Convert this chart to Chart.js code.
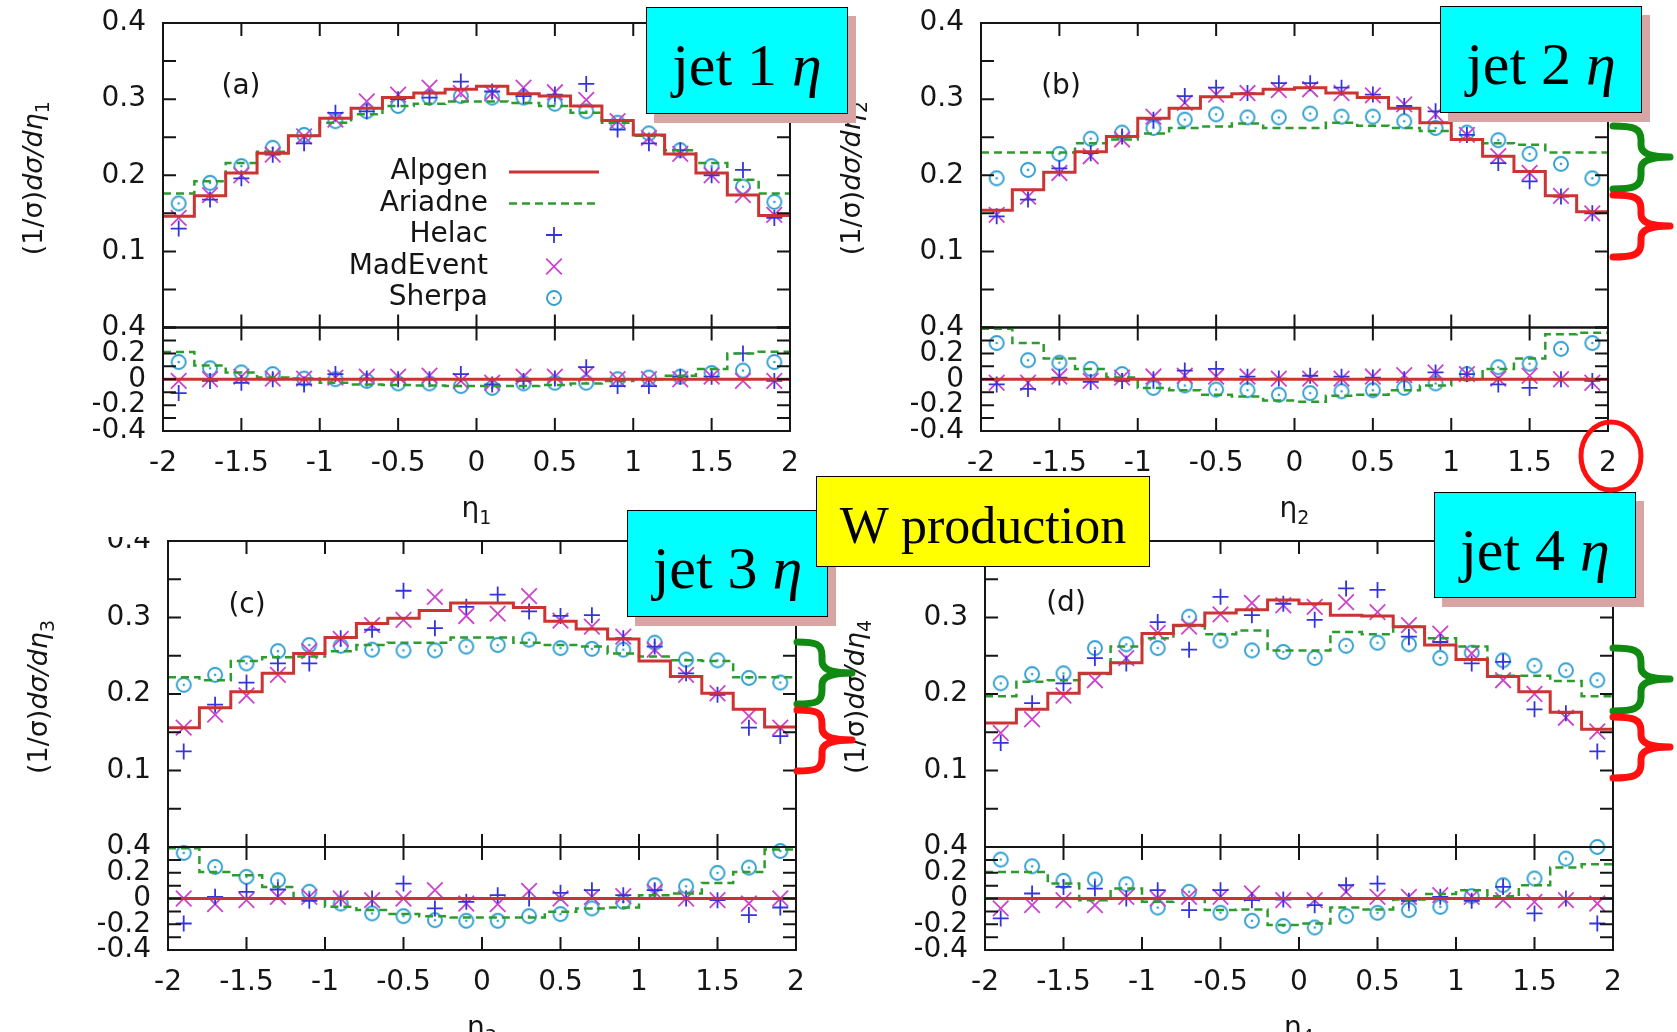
<!DOCTYPE html>
<html>
<head>
<meta charset="utf-8">
<title>W + jets: jet pseudorapidity</title>
<script src="https://cdn.jsdelivr.net/npm/chart.js@4.4.1/dist/chart.umd.min.js"></script>
<style>
  body { margin: 0; background: #fff; }
  #page { position: relative; width: 1677px; height: 1032px; overflow: hidden; background: #fff; }
  #page canvas { position: absolute; left: 0; top: 0; }
  #mainC { clip-path: inset(537px 0 0 0); }
  .box { position: absolute; box-sizing: border-box; border: 1.5px solid #000; display: flex;
         align-items: center; justify-content: center; font-family: "Liberation Serif", "Times New Roman", serif;
         color: #000; white-space: nowrap; }
  .jet { background: #00ffff; box-shadow: 8px 9px 0 #d9a4a4; font-size: 60px; padding-top: 10px; }
  .wprod { background: #ffff00; font-size: 52px; padding-top: 8px; }
  #marks { position: absolute; left: 0; top: 0; }
</style>
</head>
<body>
<div id="page">
  <canvas id="mainA" width="1677" height="1032"></canvas>
  <canvas id="ratioA" width="1677" height="1032"></canvas>
  <canvas id="mainB" width="1677" height="1032"></canvas>
  <canvas id="ratioB" width="1677" height="1032"></canvas>
  <canvas id="mainC" width="1677" height="1032"></canvas>
  <canvas id="ratioC" width="1677" height="1032"></canvas>
  <canvas id="mainD" width="1677" height="1032"></canvas>
  <canvas id="ratioD" width="1677" height="1032"></canvas>

  <div class="box jet" style="left:646px;top:7px;width:202px;height:107px">jet 1&nbsp;<i>η</i></div>
  <div class="box jet" style="left:1440px;top:6px;width:202px;height:107px">jet 2&nbsp;<i>η</i></div>
  <div class="box jet" style="left:627px;top:510px;width:201px;height:107px">jet 3&nbsp;<i>η</i></div>
  <div class="box jet" style="left:1434px;top:492px;width:202px;height:106px">jet 4&nbsp;<i>η</i></div>
  <div class="box wprod" style="left:816px;top:476px;width:334px;height:91px">W production</div>

  <svg id="marks" width="1677" height="1032"></svg>
</div>

<script>
// eta bins: 20 bins of width 0.2 between -2 and 2
const binEdges = [-2, -1.8, -1.6, -1.4, -1.2, -1, -0.8, -0.6, -0.4, -0.2, 0,
                  0.2, 0.4, 0.6, 0.8, 1, 1.2, 1.4, 1.6, 1.8, 2];
const binCenters = [-1.9, -1.7, -1.5, -1.3, -1.1, -0.9, -0.7, -0.5, -0.3, -0.1,
                    0.1, 0.3, 0.5, 0.7, 0.9, 1.1, 1.3, 1.5, 1.7, 1.9];
const seriesNames = ['Alpgen', 'Ariadne', 'Helac', 'MadEvent', 'Sherpa'];

// (1/sigma) dsigma/deta, leading jet
const alpgenJ1   = [0.146, 0.173, 0.203, 0.229, 0.252, 0.275, 0.288, 0.302, 0.308, 0.313, 0.317, 0.307, 0.304, 0.291, 0.272, 0.253, 0.228, 0.203, 0.174, 0.147];
const ariadneJ1  = [0.176, 0.192, 0.216, 0.231, 0.252, 0.269, 0.280, 0.291, 0.294, 0.297, 0.297, 0.295, 0.291, 0.282, 0.269, 0.252, 0.233, 0.216, 0.194, 0.176];
const helacJ1    = [0.130, 0.168, 0.196, 0.227, 0.242, 0.282, 0.284, 0.300, 0.302, 0.323, 0.310, 0.304, 0.306, 0.320, 0.260, 0.242, 0.233, 0.200, 0.207, 0.144];
const madeventJ1 = [0.144, 0.174, 0.200, 0.227, 0.251, 0.273, 0.297, 0.306, 0.315, 0.308, 0.308, 0.315, 0.309, 0.299, 0.271, 0.249, 0.228, 0.200, 0.174, 0.148];
const sherpaJ1   = [0.163, 0.190, 0.212, 0.236, 0.253, 0.271, 0.284, 0.291, 0.302, 0.304, 0.302, 0.302, 0.294, 0.284, 0.269, 0.255, 0.233, 0.212, 0.185, 0.165];

// second jet
const alpgenJ2   = [0.154, 0.181, 0.204, 0.231, 0.251, 0.275, 0.288, 0.303, 0.307, 0.313, 0.315, 0.308, 0.302, 0.288, 0.269, 0.247, 0.225, 0.205, 0.173, 0.152];
const ariadneJ2  = [0.230, 0.230, 0.230, 0.242, 0.247, 0.255, 0.262, 0.264, 0.268, 0.262, 0.262, 0.269, 0.265, 0.262, 0.258, 0.247, 0.242, 0.240, 0.230, 0.230];
const helacJ2    = [0.146, 0.168, 0.209, 0.229, 0.251, 0.273, 0.304, 0.315, 0.308, 0.321, 0.321, 0.315, 0.306, 0.291, 0.284, 0.253, 0.216, 0.192, 0.172, 0.150];
const madeventJ2 = [0.148, 0.172, 0.203, 0.225, 0.247, 0.277, 0.295, 0.306, 0.308, 0.312, 0.313, 0.308, 0.305, 0.293, 0.280, 0.253, 0.225, 0.203, 0.173, 0.150];
const sherpaJ2   = [0.196, 0.207, 0.228, 0.248, 0.256, 0.262, 0.273, 0.280, 0.276, 0.276, 0.281, 0.277, 0.277, 0.271, 0.262, 0.256, 0.246, 0.228, 0.215, 0.196];

// third jet
const alpgenJ3   = [0.156, 0.182, 0.203, 0.227, 0.253, 0.274, 0.292, 0.299, 0.309, 0.319, 0.319, 0.313, 0.295, 0.285, 0.272, 0.243, 0.223, 0.201, 0.180, 0.157];
const ariadneJ3  = [0.222, 0.218, 0.243, 0.248, 0.249, 0.256, 0.264, 0.267, 0.267, 0.274, 0.274, 0.267, 0.264, 0.262, 0.253, 0.249, 0.244, 0.243, 0.222, 0.222];
const helacJ3    = [0.125, 0.186, 0.215, 0.240, 0.240, 0.273, 0.284, 0.335, 0.286, 0.314, 0.330, 0.308, 0.302, 0.303, 0.273, 0.262, 0.227, 0.199, 0.156, 0.145];
const madeventJ3 = [0.156, 0.173, 0.198, 0.225, 0.256, 0.272, 0.290, 0.297, 0.327, 0.302, 0.305, 0.328, 0.296, 0.288, 0.275, 0.258, 0.225, 0.201, 0.171, 0.156];
const sherpaJ3   = [0.212, 0.225, 0.240, 0.256, 0.264, 0.263, 0.258, 0.257, 0.257, 0.262, 0.264, 0.271, 0.260, 0.259, 0.258, 0.267, 0.245, 0.244, 0.221, 0.215];

// fourth jet
const alpgenJ4   = [0.162, 0.180, 0.201, 0.227, 0.241, 0.279, 0.290, 0.306, 0.310, 0.323, 0.318, 0.303, 0.302, 0.288, 0.264, 0.245, 0.223, 0.203, 0.176, 0.154];
const ariadneJ4  = [0.197, 0.216, 0.218, 0.226, 0.262, 0.273, 0.289, 0.278, 0.283, 0.257, 0.257, 0.281, 0.278, 0.288, 0.273, 0.262, 0.224, 0.224, 0.217, 0.197];
const helacJ4    = [0.136, 0.188, 0.214, 0.247, 0.240, 0.294, 0.258, 0.327, 0.303, 0.318, 0.297, 0.338, 0.336, 0.275, 0.268, 0.240, 0.242, 0.180, 0.175, 0.125];
const madeventJ4 = [0.149, 0.167, 0.198, 0.218, 0.247, 0.280, 0.288, 0.304, 0.319, 0.316, 0.314, 0.320, 0.307, 0.290, 0.279, 0.253, 0.218, 0.200, 0.169, 0.151];
const sherpaJ4   = [0.214, 0.226, 0.227, 0.260, 0.265, 0.260, 0.301, 0.270, 0.257, 0.255, 0.247, 0.263, 0.267, 0.265, 0.247, 0.254, 0.244, 0.237, 0.231, 0.218];

// relative difference to Alpgen, (X - Alpgen) / Alpgen
const alpgenRatio = [0, 0, 0, 0, 0, 0, 0, 0, 0, 0, 0, 0, 0, 0, 0, 0, 0, 0, 0, 0];

const ariadneRatioJ1  = [0.21, 0.107, 0.053, 0.013, 0.005, -0.027, -0.04, -0.045, -0.048, -0.053, -0.053, -0.053, -0.045, -0.032, -0.013, 0, 0.027, 0.08, 0.2, 0.213];
const helacRatioJ1    = [-0.107, -0.013, -0.027, 0, -0.04, 0.04, 0.005, 0, 0, 0.04, -0.04, -0.013, 0.005, 0.093, -0.053, -0.053, 0.02, 0.02, 0.2, -0.013];
const madeventRatioJ1 = [-0.013, 0, 0.02, 0.005, 0.005, 0.013, 0.02, 0.02, 0.027, -0.013, -0.027, 0.02, 0.02, 0.04, 0, 0, 0, 0.02, -0.013, -0.013];
const sherpaRatioJ1   = [0.133, 0.085, 0.053, 0.04, 0.005, 0, -0.013, -0.032, -0.032, -0.053, -0.067, -0.032, -0.027, -0.027, 0, 0.013, 0.02, 0.048, 0.067, 0.133];

const ariadneRatioJ2  = [0.39, 0.28, 0.16, 0.08, 0.013, -0.067, -0.085, -0.12, -0.133, -0.165, -0.173, -0.128, -0.12, -0.085, -0.048, 0, 0.08, 0.16, 0.347, 0.36];
const helacRatioJ2    = [-0.04, -0.075, 0.013, -0.021, -0.013, 0, 0.067, 0.08, 0.02, 0.005, 0.027, 0.02, 0.013, 0, 0.053, 0.04, -0.04, -0.067, 0, -0.013];
const madeventRatioJ2 = [-0.027, -0.027, 0.021, -0.013, 0.013, 0.021, 0.027, 0.021, 0.021, 0.005, 0.005, 0.005, 0.021, 0.032, 0.053, 0.04, 0.005, 0.027, 0, -0.027];
const sherpaRatioJ2   = [0.28, 0.147, 0.128, 0.08, 0.04, -0.067, -0.048, -0.08, -0.085, -0.12, -0.107, -0.093, -0.085, -0.067, -0.032, 0.04, 0.093, 0.12, 0.235, 0.28];

const ariadneRatioJ3  = [0.39, 0.206, 0.18, 0.09, 0, -0.065, -0.09, -0.12, -0.137, -0.147, -0.147, -0.147, -0.103, -0.077, -0.07, 0.026, 0.039, 0.121, 0.206, 0.38];
const helacRatioJ3    = [-0.194, 0.013, 0.052, 0.07, -0.018, 0, 0, 0.116, -0.077, -0.026, 0.026, 0, 0.044, 0.065, 0.026, 0.065, 0, -0.013, -0.129, -0.07];
const madeventRatioJ3 = [0, -0.044, -0.013, 0.013, 0.013, 0, -0.013, 0, 0.065, -0.039, -0.044, 0.059, 0, 0.013, 0.018, 0.052, 0, -0.013, -0.039, 0];
const sherpaRatioJ3   = [0.354, 0.245, 0.168, 0.142, 0.052, -0.039, -0.116, -0.137, -0.168, -0.173, -0.173, -0.137, -0.121, -0.077, -0.026, 0.103, 0.095, 0.199, 0.24, 0.369];

const ariadneRatioJ4  = [0.206, 0.206, 0.116, -0.013, 0.077, -0.026, 0, -0.09, -0.085, -0.206, -0.194, -0.07, -0.085, -0.008, 0.034, 0.065, 0.018, 0.103, 0.24, 0.266];
const helacRatioJ4    = [-0.155, 0.039, 0.09, 0.077, 0, 0.065, -0.09, 0.065, -0.013, -0.008, -0.052, 0.103, 0.116, -0.018, 0.013, -0.018, 0.09, -0.116, 0, -0.194];
const madeventRatioJ4 = [-0.077, -0.052, -0.013, -0.052, 0.013, 0, 0.013, 0.013, 0.039, -0.013, -0.013, 0.052, 0.013, 0.013, 0.026, 0.013, -0.013, -0.026, -0.013, -0.039];
const sherpaRatioJ4   = [0.302, 0.25, 0.137, 0.147, 0.111, -0.07, 0.052, -0.111, -0.173, -0.214, -0.225, -0.137, -0.111, -0.09, -0.065, 0.018, 0.103, 0.155, 0.31, 0.4];

// ---- page layout ----
const PAGE_W = 1677, PAGE_H = 1032;
const INK = '#151515';
const SANS = '"DejaVu Sans", sans-serif';
const TICK = 13;
const Y_AXIS_W = 70, X_AXIS_H = 60;

Chart.defaults.font.family = SANS;
Chart.defaults.font.size = 28;
Chart.defaults.color = INK;

const COLORS = { alpgen: '#cc3333', ariadne: '#2e9b2e', helac: '#3434dc', madevent: '#cc44cc', sherpa: '#2f9fd0' };

// open circle with a centre dot, gnuplot style
function ringDot(color) {
  const c = document.createElement('canvas');
  c.width = c.height = 20;
  const g = c.getContext('2d');
  g.strokeStyle = color; g.fillStyle = color; g.lineWidth = 1.9;
  g.beginPath(); g.arc(10, 10, 7, 0, Math.PI * 2); g.stroke();
  g.beginPath(); g.arc(10, 10, 1.3, 0, Math.PI * 2); g.fill();
  return c;
}
const sherpaMark = ringDot(COLORS.sherpa);

function histogram(vals) {
  const pts = [];
  vals.forEach((v, i) => { pts.push({ x: binEdges[i], y: v }, { x: binEdges[i + 1], y: v }); });
  return pts;
}
function markers(vals) {
  return binCenters.map((x, i) => ({ x, y: vals[i] }));
}

function buildDatasets(series) {
  const [alp, ari, hel, mad, she] = series;
  return [
    { label: seriesNames[0], data: histogram(alp), showLine: true, borderColor: COLORS.alpgen,
      borderWidth: 3, pointRadius: 0, tension: 0, fill: false },
    { label: seriesNames[1], data: histogram(ari), showLine: true, borderColor: COLORS.ariadne,
      borderWidth: 2.5, borderDash: [8, 5], pointRadius: 0, tension: 0, fill: false },
    { label: seriesNames[2], data: markers(hel), showLine: false, pointStyle: 'cross', pointRadius: 8,
      pointBorderWidth: 1.8, pointBorderColor: COLORS.helac, pointBackgroundColor: COLORS.helac, clip: 12 },
    { label: seriesNames[3], data: markers(mad), showLine: false, pointStyle: 'crossRot', pointRadius: 11,
      pointBorderWidth: 1.8, pointBorderColor: COLORS.madevent, pointBackgroundColor: COLORS.madevent, clip: 12 },
    { label: seriesNames[4], data: markers(she), showLine: false, pointStyle: sherpaMark, pointRadius: 8, clip: 12 },
  ];
}

// border plus inward tick marks on all four sides
const gnuFrame = {
  id: 'gnuFrame',
  afterDraw(chart) {
    const { ctx, chartArea: a, scales: { x, y } } = chart;
    ctx.save();
    ctx.strokeStyle = INK;
    ctx.lineWidth = 2;
    ctx.beginPath();
    x.ticks.forEach(t => {
      const px = x.getPixelForValue(t.value);
      ctx.moveTo(px, a.top); ctx.lineTo(px, a.top + TICK);
      ctx.moveTo(px, a.bottom); ctx.lineTo(px, a.bottom - TICK);
    });
    y.ticks.forEach(t => {
      const py = y.getPixelForValue(t.value);
      ctx.moveTo(a.left, py); ctx.lineTo(a.left + TICK, py);
      ctx.moveTo(a.right, py); ctx.lineTo(a.right - TICK, py);
    });
    ctx.stroke();
    ctx.strokeRect(a.left, a.top, a.right - a.left, a.bottom - a.top);
    ctx.restore();
  }
};

// axis titles with subscripts and the panel letter
const panelText = {
  id: 'panelText',
  afterDraw(chart, args, o) {
    const { ctx, chartArea: a } = chart;
    ctx.save();
    ctx.fillStyle = INK;
    if (o.tag) {
      ctx.font = `28px ${SANS}`;
      ctx.textAlign = 'center';
      ctx.textBaseline = 'middle';
      ctx.fillText(o.tag, o.tagX, o.tagY);
    }
    ctx.textAlign = 'left';
    ctx.textBaseline = 'alphabetic';
    if (o.yTitle) {
      const parts = [['(1/σ)', `27px ${SANS}`, 0], ['dσ/dη', `oblique 27px ${SANS}`, 0], [o.sub, `19px ${SANS}`, 7]];
      let w = 0;
      parts.forEach(p => { ctx.font = p[1]; w += ctx.measureText(p[0]).width; });
      ctx.save();
      ctx.translate(a.left - 131, (a.top + a.bottom) / 2 + 3);
      ctx.rotate(-Math.PI / 2);
      let cx = -w / 2;
      parts.forEach(p => { ctx.font = p[1]; ctx.fillText(p[0], cx, 10 + p[2]); cx += ctx.measureText(p[0]).width; });
      ctx.restore();
    }
    if (o.xTitle) {
      ctx.font = `28px ${SANS}`;
      const w1 = ctx.measureText('η').width;
      ctx.font = `19px ${SANS}`;
      const w2 = ctx.measureText(o.sub).width;
      let cx = (a.left + a.right) / 2 - (w1 + w2) / 2;
      const base = a.bottom + 86;
      ctx.font = `28px ${SANS}`;
      ctx.fillText('η', cx, base);
      ctx.font = `19px ${SANS}`;
      ctx.fillText(o.sub, cx + w1, base + 7);
    }
    ctx.restore();
  }
};

// key: text right-aligned, sample to its right
function drawSample(ctx, ds, x, y) {
  if (ds.showLine) {
    ctx.strokeStyle = ds.borderColor;
    ctx.lineWidth = ds.borderWidth;
    ctx.setLineDash(ds.borderDash || []);
    ctx.beginPath(); ctx.moveTo(x - 45, y); ctx.lineTo(x + 45, y); ctx.stroke();
    ctx.setLineDash([]);
    return;
  }
  const r = ds.pointRadius;
  if (typeof ds.pointStyle === 'object') {
    ctx.drawImage(ds.pointStyle, Math.round(x - ds.pointStyle.width / 2), Math.round(y - ds.pointStyle.height / 2));
    return;
  }
  ctx.strokeStyle = ds.pointBorderColor;
  ctx.lineWidth = ds.pointBorderWidth;
  ctx.beginPath();
  if (ds.pointStyle === 'cross') {
    ctx.moveTo(x - r, y); ctx.lineTo(x + r, y); ctx.moveTo(x, y - r); ctx.lineTo(x, y + r);
  } else {
    const d = r * Math.SQRT1_2;
    ctx.moveTo(x - d, y - d); ctx.lineTo(x + d, y + d); ctx.moveTo(x + d, y - d); ctx.lineTo(x - d, y + d);
  }
  ctx.stroke();
}
const gnuLegend = {
  id: 'gnuLegend',
  afterDraw(chart, args, o) {
    if (!o.show) return;
    const { ctx } = chart;
    ctx.save();
    ctx.font = `28px ${SANS}`;
    ctx.textAlign = 'right';
    ctx.textBaseline = 'middle';
    chart.data.datasets.forEach((ds, i) => {
      const y = o.top + i * o.rowGap;
      ctx.fillStyle = INK;
      ctx.fillText(ds.label, o.textRight, y);
      drawSample(ctx, ds, o.sampleX, y);
    });
    ctx.restore();
  }
};

const mainLabel = v => {
  const k = Math.round(v * 20);
  return (k > 0 && k % 2 === 0) ? (k / 20).toFixed(1) : '';
};
const ratioLabel = v => {
  const k = Math.round(v * 10);
  if (k % 2 !== 0) return '';
  return k === 0 ? '0' : (k / 10).toFixed(1);
};

function makeChart(canvasId, P, kind) {
  const isMain = kind === 'main';
  const top = isMain ? P.T : P.S;
  const bottom = isMain ? P.S : P.B;
  const xh = isMain ? 0 : X_AXIS_H;
  return new Chart(document.getElementById(canvasId), {
    type: 'scatter',
    data: { datasets: buildDatasets(isMain ? P.main : P.ratio) },
    plugins: [gnuFrame, panelText, gnuLegend],
    options: {
      responsive: false,
      animation: false,
      events: [],
      layout: { padding: { left: P.L - Y_AXIS_W, right: PAGE_W - P.R, top: top, bottom: PAGE_H - bottom - xh } },
      plugins: {
        legend: { display: false },
        tooltip: { enabled: false },
        panelText: isMain
          ? { tag: P.tag, tagX: P.tagX, tagY: P.tagY, yTitle: true, sub: P.sub }
          : { xTitle: true, sub: P.sub },
        gnuLegend: { show: isMain && !!P.legend, top: 172, rowGap: 31.5, textRight: 488, sampleX: 554 },
      },
      scales: {
        x: {
          type: 'linear', min: -2, max: 2,
          grid: { display: false, drawTicks: false },
          border: { display: false },
          ticks: { display: !isMain, stepSize: 0.5, autoSkip: false, maxRotation: 0, padding: 16,
                   callback: v => String(v) },
          afterFit(s) { s.height = xh; s.paddingLeft = 0; s.paddingRight = 0; },
        },
        y: {
          type: 'linear',
          min: isMain ? 0 : -0.4, max: 0.4,
          grid: { display: false, drawTicks: false },
          border: { display: false },
          ticks: { stepSize: isMain ? 0.05 : 0.1, autoSkip: false, padding: 17,
                   callback: isMain ? mainLabel : ratioLabel },
          afterFit(s) { s.width = Y_AXIS_W; s.paddingTop = 0; s.paddingBottom = 0; },
        },
      },
    },
  });
}

const panels = [
  { key: 'A', L: 163, R: 790, T: 23, S: 327.5, B: 431, sub: '1', tag: '(a)', tagX: 241, tagY: 87, legend: true,
    main: [alpgenJ1, ariadneJ1, helacJ1, madeventJ1, sherpaJ1],
    ratio: [alpgenRatio, ariadneRatioJ1, helacRatioJ1, madeventRatioJ1, sherpaRatioJ1] },
  { key: 'B', L: 981, R: 1608, T: 23, S: 327.5, B: 431, sub: '2', tag: '(b)', tagX: 1061, tagY: 87,
    main: [alpgenJ2, ariadneJ2, helacJ2, madeventJ2, sherpaJ2],
    ratio: [alpgenRatio, ariadneRatioJ2, helacRatioJ2, madeventRatioJ2, sherpaRatioJ2] },
  { key: 'C', L: 168, R: 796, T: 541, S: 847, B: 950, sub: '3', tag: '(c)', tagX: 247, tagY: 606,
    main: [alpgenJ3, ariadneJ3, helacJ3, madeventJ3, sherpaJ3],
    ratio: [alpgenRatio, ariadneRatioJ3, helacRatioJ3, madeventRatioJ3, sherpaRatioJ3] },
  { key: 'D', L: 985, R: 1613, T: 541, S: 847, B: 950, sub: '4', tag: '(d)', tagX: 1066, tagY: 604,
    main: [alpgenJ4, ariadneJ4, helacJ4, madeventJ4, sherpaJ4],
    ratio: [alpgenRatio, ariadneRatioJ4, helacRatioJ4, madeventRatioJ4, sherpaRatioJ4] },
];

panels.forEach(P => {
  makeChart('main' + P.key, P, 'main');
  makeChart('ratio' + P.key, P, 'ratio');
});

// curly braces and the circled tick label
function brace(x0, yT, yB, ym, xs, xt) {
  return `M${x0},${yT} C${x0 + 20},${yT} ${xs},${yT + 2} ${xs},${yT + 14} L${xs},${ym - 12} ` +
         `C${xs},${ym - 4} ${xs + 8},${ym} ${xt},${ym} C${xs + 8},${ym} ${xs},${ym + 4} ${xs},${ym + 12} ` +
         `L${xs},${yB - 14} C${xs},${yB - 2} ${x0 + 20},${yB} ${x0},${yB}`;
}
const braces = [
  ['#118a11', 1613, 126, 189, 157, 1641, 1670],
  ['#ff1010', 1613, 195, 257, 226, 1641, 1670],
  ['#118a11', 797, 642, 704, 673, 822, 852],
  ['#ff1010', 797, 710, 771, 740, 822, 852],
  ['#118a11', 1613, 648, 711, 679, 1641, 1670],
  ['#ff1010', 1613, 717, 778, 747, 1641, 1670],
];
const svg = document.getElementById('marks');
let svgBody = '<ellipse cx="1611" cy="456" rx="30" ry="34" fill="none" stroke="#ff1010" stroke-width="5"/>';
braces.forEach(([c, x0, yT, yB, ym, xs, xt]) => {
  svgBody += `<path d="${brace(x0, yT, yB, ym, xs, xt)}" fill="none" stroke="${c}" stroke-width="7" stroke-linecap="round" stroke-linejoin="round"/>`;
});
svg.innerHTML = svgBody;
</script>
</body>
</html>
